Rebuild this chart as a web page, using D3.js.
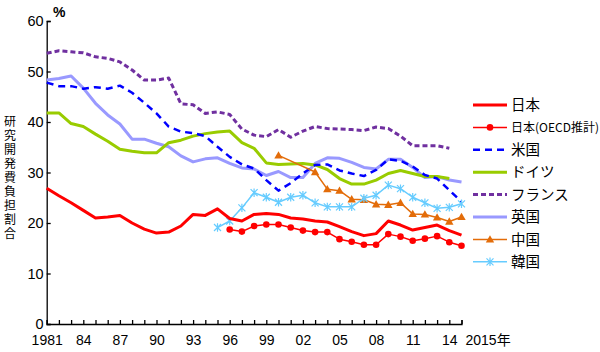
<!DOCTYPE html>
<html><head><meta charset="utf-8">
<script src="https://cdn.jsdelivr.net/npm/d3@7"></script>
<style>
html,body{margin:0;padding:0;background:#fff;}
svg{display:block;}
text{font-family:"Liberation Sans",Arial,"Noto Sans CJK JP",sans-serif;}
.cjk{font-family:"Noto Sans CJK JP",sans-serif;}
.vert{writing-mode:vertical-rl;letter-spacing:2px;}
</style>
</head><body>
<svg id="chart" width="600" height="352"></svg>
<script>
const years = [1981,1982,1983,1984,1985,1986,1987,1988,1989,1990,1991,1992,1993,1994,1995,1996,1997,1998,1999,2000,2001,2002,2003,2004,2005,2006,2007,2008,2009,2010,2011,2012,2013,2014,2015];
const japan = [26.9,25.4,24.0,22.5,21.0,21.2,21.5,20.0,18.8,18.0,18.2,19.4,21.7,21.5,22.8,20.9,20.4,21.7,21.9,21.7,21.0,20.8,20.4,20.2,19.3,18.3,17.5,17.9,20.4,19.6,18.6,19.1,19.6,18.5,17.6];
const japanOECD = [null,null,null,null,null,null,null,null,null,null,null,null,null,null,null,18.7,18.3,19.4,19.7,19.7,19.1,18.5,18.2,18.2,16.8,16.3,15.7,15.7,17.8,17.3,16.5,16.9,17.4,16.2,15.5];
const usa = [47.8,47.1,47.1,46.6,46.9,46.6,47.2,45.8,43.8,41.7,39.1,38.1,37.8,37.2,35.1,33.1,31.6,30.8,28.5,26.4,27.9,29.8,31.5,31.6,30.4,29.8,29.3,30.5,32.6,32.3,31.2,29.5,28.8,26.5,24.2];
const germany = [41.8,41.8,39.7,39.1,37.6,36.2,34.6,34.2,33.9,33.9,35.9,36.4,37.2,37.7,38.0,38.2,35.9,34.8,31.9,31.6,31.7,31.8,31.5,30.6,28.8,27.7,27.7,28.5,29.8,30.4,29.8,29.2,29.2,28.8,null];
const france = [53.6,54.1,53.9,53.7,52.9,52.6,51.9,50.3,48.3,48.3,48.7,43.6,43.4,41.7,42.0,41.5,38.6,37.4,37.1,38.5,37.0,38.2,39.1,38.7,38.6,38.5,38.3,39.0,38.7,37.2,35.3,35.3,35.3,34.8,null];
const uk = [48.3,48.6,49.1,46.7,43.7,41.4,39.6,36.6,36.6,35.8,35.1,33.3,32.1,32.7,32.9,31.8,30.9,30.7,29.4,30.2,29.0,29.0,31.8,32.9,32.8,32.0,31.0,30.7,32.6,32.6,31.0,29.0,29.2,28.5,28.1];
const china = [null,null,null,null,null,null,null,null,null,null,null,null,null,null,null,null,null,null,null,33.4,null,null,30.1,26.7,26.4,24.7,24.6,23.7,23.6,24.0,21.8,21.7,21.1,20.3,21.2];
const korea = [null,null,null,null,null,null,null,null,null,null,null,null,null,null,19.1,20.4,23.0,26.0,25.1,24.1,25.1,25.5,24.0,23.2,23.2,23.2,24.9,25.5,27.5,26.8,25.1,24.0,22.9,23.1,23.8];
const seriesNames = ["日本","日本(OECD推計)","米国","ドイツ","フランス","英国","中国","韓国"];
const yTicks = [0,10,20,30,40,50,60];
const xLabelYears = [1981,1984,1987,1990,1993,1996,1999,2002,2005,2008,2011,2014];
const yTitle = "研究開発費負担割合";
const unitLabel = "%";
const endLabel = "2015年";

const styles = [
  {data: japan, color:"#ff0000", width:3, dash:null, marker:null},
  {data: japanOECD, color:"#ff0000", width:1.5, dash:null, marker:"dot"},
  {data: usa, color:"#0000ff", width:2.5, dash:"7,5", marker:null},
  {data: germany, color:"#99cc00", width:3, dash:null, marker:null},
  {data: france, color:"#7030a0", width:3, dash:"5,3", marker:null},
  {data: uk, color:"#9999ff", width:3, dash:null, marker:null},
  {data: china, color:"#e36c09", width:1.5, dash:null, marker:"tri"},
  {data: korea, color:"#66ccff", width:1.5, dash:null, marker:"star"}
];

const svg = d3.select("#chart");
const x = d3.scaleLinear().domain([1981,2015]).range([46.7,461.5]);
const y = d3.scaleLinear().domain([0,60]).range([324,21]);

// axes
const yAxis = d3.axisLeft(y).tickValues(yTicks).tickSize(-4).tickPadding(3);
const gy = svg.append("g").attr("transform","translate(46.7,0)").call(yAxis);
gy.selectAll("text").attr("font-size",14.5).attr("fill","#000");
gy.selectAll("line,path").attr("stroke","#000").attr("stroke-width",1.3);

const xAxis = d3.axisBottom(x).tickValues(years).tickSize(-4).tickPadding(11)
  .tickFormat(d => d===1981 ? "1981" : (xLabelYears.includes(d) ? String(d).slice(2) : ""));
const gx = svg.append("g").attr("transform","translate(0,324)").call(xAxis);
gx.selectAll("text").attr("font-size",14).attr("fill","#000");
gx.selectAll("line,path").attr("stroke","#000").attr("stroke-width",1.3);

svg.append("text").attr("x", x(2015)+4).attr("y",345).attr("font-size",14).text(endLabel);
svg.append("text").attr("x",53).attr("y",17).attr("font-size",14).attr("font-weight","bold").text(unitLabel);

// y title, vertical writing
svg.append("text").attr("class","cjk vert").attr("font-size",12)
  .attr("x",10).attr("y",115).text(yTitle);

// lines
const line = d3.line().defined(d=>d.v!=null).x(d=>x(d.year)).y(d=>y(d.v));
function drawMarker(g, type, cx, cy, color){
  if(type==="dot"){
    g.append("circle").attr("cx",cx).attr("cy",cy).attr("r",3.3).attr("fill",color);
  } else if(type==="tri"){
    const s=4.2;
    g.append("path").attr("d",`M${cx},${cy-s}L${cx+s},${cy+s*0.75}L${cx-s},${cy+s*0.75}Z`).attr("fill",color);
  } else if(type==="star"){
    const s=3.5;
    g.append("path").attr("d",`M${cx-s},${cy-s}L${cx+s},${cy+s}M${cx-s},${cy+s}L${cx+s},${cy-s}M${cx},${cy-s*1.2}L${cx},${cy+s*1.2}`)
      .attr("stroke",color).attr("stroke-width",1.2).attr("fill","none");
  }
}
const drawOrder = [5,3,4,2,6,7,0,1];
drawOrder.forEach(i=>{
  const s = styles[i];
  const pts = years.map((yr,k)=>({year:yr, v:s.data[k]})).filter(d=>d.v!=null);
  const g = svg.append("g");
  g.append("path").datum(pts).attr("d",line).attr("fill","none")
    .attr("stroke",s.color).attr("stroke-width",s.width)
    .attr("stroke-dasharray",s.dash).attr("stroke-linejoin","round");
  if(s.marker) pts.forEach(d=>drawMarker(g,s.marker,x(d.year),y(d.v),s.color));
});

// legend
const lg = svg.append("g");
styles.forEach((s,i)=>{
  const ly = 105 + i*22.4;
  lg.append("line").attr("x1",473).attr("x2",507).attr("y1",ly).attr("y2",ly)
    .attr("stroke",s.color).attr("stroke-width",s.width).attr("stroke-dasharray",s.dash);
  if(s.marker) drawMarker(lg,s.marker,490,ly,s.color);
  lg.append("text").attr("class","cjk").attr("x",511).attr("y",ly).attr("dy","0.36em")
    .attr("font-size", i===1?12:14.5).text(seriesNames[i]);
});
</script>
</body></html>
